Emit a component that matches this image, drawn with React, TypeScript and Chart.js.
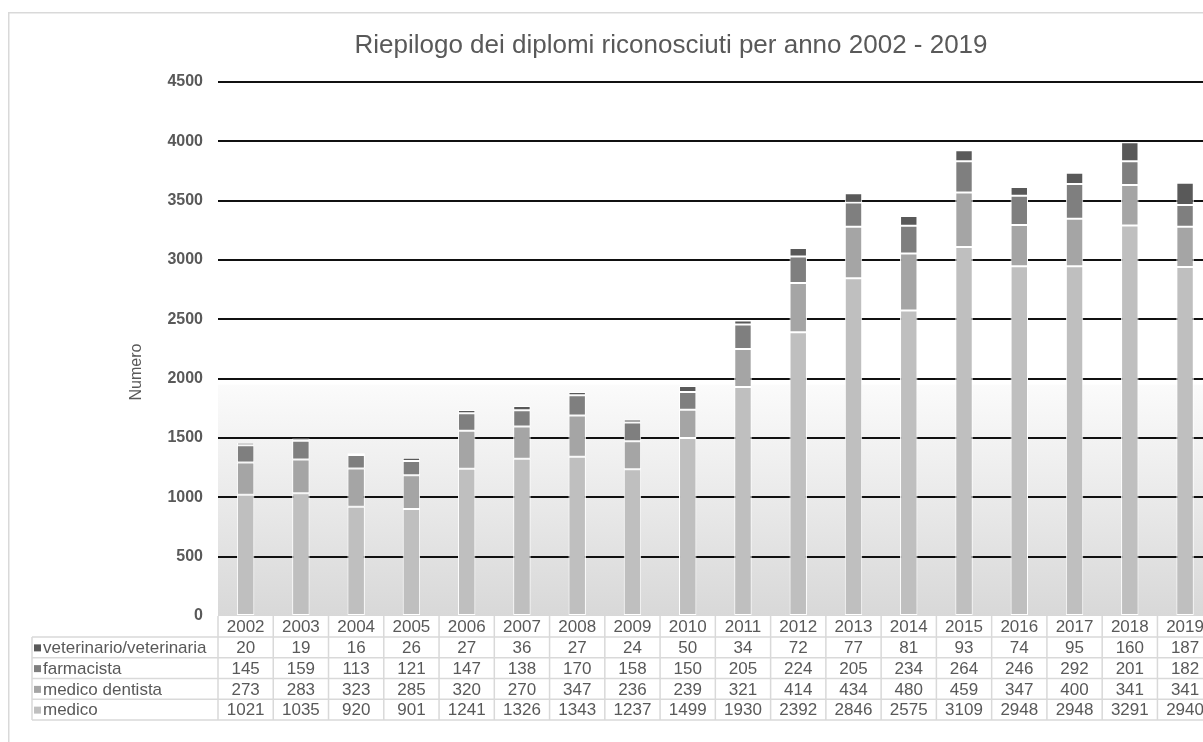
import React, { useEffect, useRef } from "react";
import { Chart, registerables } from "chart.js";

Chart.register(...registerables);

const years = ["2002","2003","2004","2005","2006","2007","2008","2009","2010","2011","2012","2013","2014","2015","2016","2017","2018","2019"];
const veterinario = [20,19,16,26,27,36,27,24,50,34,72,77,81,93,74,95,160,187];
const farmacista = [145,159,113,121,147,138,170,158,150,205,224,205,234,264,246,292,201,182];
const medicoDentista = [273,283,323,285,320,270,347,236,239,321,414,434,480,459,347,400,341,341];
const medico = [1021,1035,920,901,1241,1326,1343,1237,1499,1930,2392,2846,2575,3109,2948,2948,3291,2940];

const seriesNames = ["veterinario/veterinaria","farmacista","medico dentista","medico"];
const seriesColors = ["#595959","#7f7f7f","#a5a5a5","#bfbfbf"];
const tableRows = [veterinario, farmacista, medicoDentista, medico];

const titleText = "Riepilogo dei diplomi riconosciuti per anno 2002 - 2019";
const yTitleText = "Numero";
const yMin = 0;
const yMax = 4500;
const yStep = 500;

const FONT = "'Liberation Sans', Arial, sans-serif";
const TEXT = "#595959";
const LINE = "#d9d9d9";

const CANVAS_W = 1260;
const CANVAS_H = 742;

const decorPlugin = {
  id: "decor",
  beforeDraw(chart: any) {
    const { ctx, chartArea, scales } = chart;
    ctx.save();
    ctx.fillStyle = "#ffffff";
    ctx.fillRect(0, 0, chart.width, chart.height);
    const gTop = scales.y.getPixelForValue(1950);
    const gBot = chartArea.bottom;
    const g = ctx.createLinearGradient(0, gTop, 0, gBot);
    g.addColorStop(0, "#fbfbfb");
    g.addColorStop(1, "#d8d8d8");
    ctx.fillStyle = g;
    ctx.fillRect(chartArea.left, gTop, chartArea.right - chartArea.left, gBot - gTop);
    ctx.strokeStyle = LINE;
    ctx.lineWidth = 1.5;
    ctx.beginPath();
    ctx.moveTo(8.75, chart.height + 5);
    ctx.lineTo(8.75, 12.75);
    ctx.lineTo(chart.width + 5, 12.75);
    ctx.stroke();
    ctx.restore();
  },
  afterDraw(chart: any) {
    const { ctx, chartArea, scales } = chart;
    const xs = scales.x;
    ctx.save();
    ctx.fillStyle = TEXT;
    ctx.font = `26px ${FONT}`;
    ctx.textAlign = "center";
    ctx.textBaseline = "alphabetic";
    ctx.fillText(titleText, 671, 53);

    ctx.save();
    ctx.translate(137, 372);
    ctx.rotate(-Math.PI / 2);
    ctx.font = `16px ${FONT}`;
    ctx.textBaseline = "middle";
    ctx.textAlign = "center";
    ctx.fillText(yTitleText, 0, 0);
    ctx.restore();

    const n = years.length;
    const cw = (chartArea.right - chartArea.left) / n;
    const top = chartArea.bottom;
    const headerBottom = top + 21;
    const rowH = 20.75;
    const tableBottom = headerBottom + rowH * tableRows.length;
    const labelLeft = 32;

    ctx.strokeStyle = LINE;
    ctx.lineWidth = 1.5;
    ctx.beginPath();
    for (let i = 0; i <= n; i++) {
      const x = chartArea.left + i * cw;
      ctx.moveTo(x, top);
      ctx.lineTo(x, tableBottom);
    }
    ctx.moveTo(labelLeft, headerBottom);
    ctx.lineTo(labelLeft, tableBottom);
    for (let r = 0; r <= tableRows.length; r++) {
      const y = headerBottom + r * rowH;
      ctx.moveTo(labelLeft, y);
      ctx.lineTo(chartArea.right, y);
    }
    ctx.stroke();

    ctx.fillStyle = TEXT;
    ctx.font = `17px ${FONT}`;
    ctx.textAlign = "center";
    ctx.textBaseline = "middle";
    for (let i = 0; i < n; i++) {
      const cx = xs.getPixelForValue(i);
      ctx.fillText(years[i], cx, (top + headerBottom) / 2 + 1);
    }
    for (let r = 0; r < tableRows.length; r++) {
      const cy = headerBottom + r * rowH + rowH / 2 + 1;
      for (let i = 0; i < n; i++) {
        const cx = xs.getPixelForValue(i);
        ctx.fillStyle = TEXT;
        ctx.textAlign = "center";
        ctx.fillText(String(tableRows[r][i]), cx, cy);
      }
      ctx.fillStyle = seriesColors[r];
      ctx.fillRect(labelLeft + 2, cy - 4, 7, 7);
      ctx.fillStyle = TEXT;
      ctx.textAlign = "left";
      ctx.fillText(seriesNames[r], labelLeft + 11, cy);
    }
    ctx.restore();
  },
};

export default function App() {
  const ref = useRef<HTMLCanvasElement | null>(null);
  useEffect(() => {
    if (!ref.current) return;
    const datasets = [
      { label: seriesNames[3], data: medico, backgroundColor: seriesColors[3] },
      { label: seriesNames[2], data: medicoDentista, backgroundColor: seriesColors[2] },
      { label: seriesNames[1], data: farmacista, backgroundColor: seriesColors[1] },
      { label: seriesNames[0], data: veterinario, backgroundColor: seriesColors[0] },
    ].map((d) => ({
      ...d,
      borderColor: "#ffffff",
      borderWidth: 1,
      borderSkipped: false as const,
      categoryPercentage: 1,
      barPercentage: 0.315,
    }));
    const chart = new Chart(ref.current, {
      type: "bar",
      data: { labels: years, datasets },
      options: {
        responsive: false,
        animation: false,
        devicePixelRatio: 1,
        layout: { padding: { top: 82, bottom: CANVAS_H - 616, left: 0, right: CANVAS_W - 1212.7 } },
        plugins: { legend: { display: false }, title: { display: false }, tooltip: { enabled: false } },
        scales: {
          x: { display: false, stacked: true, offset: true },
          y: {
            stacked: true,
            min: yMin,
            max: yMax,
            afterFit: (scale: any) => { scale.width = 218; },
            border: { display: false },
            grid: {
              drawTicks: false,
              lineWidth: 2,
              color: (c: any) => (c.tick && c.tick.value === 0 ? "rgba(0,0,0,0)" : "#111111"),
            },
            ticks: {
              stepSize: yStep,
              padding: 15,
              color: TEXT,
              font: { family: FONT, size: 16, weight: "bold" },
              callback: (v: any) => String(v),
            },
          },
        },
      },
      plugins: [decorPlugin],
    });
    return () => chart.destroy();
  }, []);
  return (
    <div style={{ position: "fixed", left: 0, top: 0, width: 1203, height: 742, overflow: "hidden", background: "#fff" }}>
      <canvas ref={ref} width={CANVAS_W} height={CANVAS_H} style={{ width: CANVAS_W, height: CANVAS_H, display: "block" }} />
    </div>
  );
}
